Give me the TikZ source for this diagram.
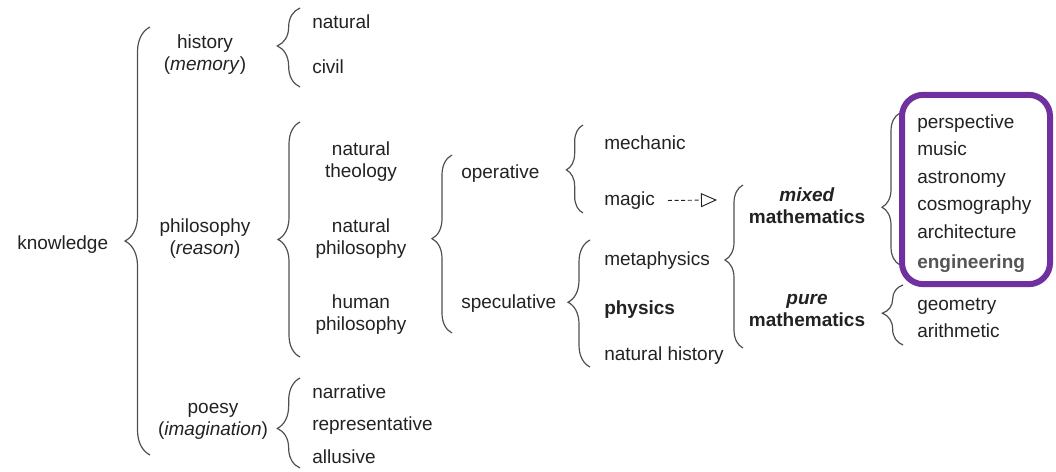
\documentclass[tikz,border=0pt]{standalone}
\usepackage{fontspec}
\setmainfont{Liberation Sans}
\usetikzlibrary{decorations.pathreplacing,arrows.meta,shadows}
\definecolor{txt}{HTML}{222222}
\definecolor{bracegray}{HTML}{505050}
\definecolor{boxpurple}{HTML}{7030A0}
\definecolor{enggray}{HTML}{555555}
\tikzset{
  lbl/.style={anchor=west, inner sep=0pt, yshift=-1.2pt, text=txt, font=\fontsize{14.25}{16.5}\selectfont, text height=10pt, text depth=3pt},
  mlbl/.style={anchor=center, inner sep=0pt, yshift=-0.8pt, text=txt, align=center, font=\fontsize{14.25}{16.5}\selectfont},
  mybrace/.style n args={2}{draw=bracegray, line width=0.9pt, decorate, decoration={brace, amplitude=#1, aspect=#2}},
  purplebox/.style={draw=boxpurple, line width=4.5pt, rounded corners=16pt, fill=white, minimum width=111pt, minimum height=142pt, inner sep=0pt, drop shadow={shadow xshift=1pt, shadow yshift=-1pt, opacity=0.25}},
  dasharrow/.style={draw=txt, line width=0.7pt, dash pattern=on 3pt off 2pt, -{Triangle[open, length=12pt, width=10.5pt]}}
}
\begin{document}
\begin{tikzpicture}[x=0.75pt, y=-0.75pt]
\useasboundingbox (0,0) rectangle (1056,471);

% level 0
\node[lbl] (knowledge) at (17,243) {knowledge};
\coordinate (b1s) at (150,455); \coordinate (b1e) at (150,27);
\draw[mybrace={18.75pt}{0.50}] (b1s) -- (b1e);

% level 1
\node[mlbl] (history) at (205,53.5) {history\\(\textit{memory})};
\node[mlbl] (philosophy) at (205,237.5) {philosophy\\(\textit{reason})};
\node[mlbl] (poesy) at (213,420) {poesy\\(\textit{imagination})};

% history branch
\coordinate (b2s) at (300,87); \coordinate (b2e) at (300,8);
\draw[mybrace={17pt}{0.52}] (b2s) -- (b2e);
\node[lbl] (natural) at (312,22) {natural};
\node[lbl] (civil) at (312,67) {civil};

% philosophy branch
\coordinate (b3s) at (300,357); \coordinate (b3e) at (300,122);
\draw[mybrace={16.5pt}{0.50}] (b3s) -- (b3e);
\node[mlbl] (naturaltheology) at (361,160.5) {natural\\theology};
\node[mlbl] (naturalphilosophy) at (361,237.5) {natural\\philosophy};
\node[mlbl] (humanphilosophy) at (361,314) {human\\philosophy};

% poesy branch
\coordinate (b4s) at (300,468); \coordinate (b4e) at (300,378);
\draw[mybrace={17pt}{0.44}] (b4s) -- (b4e);
\node[lbl] (narrative) at (312,392) {narrative};
\node[lbl] (representative) at (312,424) {representative};
\node[lbl] (allusive) at (312,457) {allusive};

% natural philosophy branch
\coordinate (b5s) at (452,333); \coordinate (b5e) at (452,155);
\draw[mybrace={15pt}{0.53}] (b5s) -- (b5e);
\node[lbl] (operative) at (461,172) {operative};
\node[lbl] (speculative) at (461,302) {speculative};

% operative branch
\coordinate (b6s) at (583,213); \coordinate (b6e) at (583,125);
\draw[mybrace={12.5pt}{0.49}] (b6s) -- (b6e);
\node[lbl] (mechanic) at (604,143) {mechanic};
\node[lbl] (magic) at (604,199) {magic};

% speculative branch
\coordinate (b7s) at (590,367); \coordinate (b7e) at (590,240);
\draw[mybrace={16.5pt}{0.51}] (b7s) -- (b7e);
\node[lbl] (metaphysics) at (604,259) {metaphysics};
\node[lbl] (physics) at (604,308) {\textbf{physics}};
\node[lbl] (naturalhistory) at (604,354) {natural history};

% magic arrow
\coordinate (arrowtip) at (717,200);
\draw[dasharrow, shorten <=9.5pt] (magic.east) -- (arrowtip);

% metaphysics branch
\coordinate (b8s) at (743,348); \coordinate (b8e) at (743,185);
\draw[mybrace={13.5pt}{0.54}] (b8s) -- (b8e);
\node[mlbl] (mixedmath) at (807,205) {\textbf{\textit{mixed}}\\\textbf{mathematics}};
\node[mlbl] (puremath) at (807,309.5) {\textbf{\textit{pure}}\\\textbf{mathematics}};

% mixed mathematics branch
\coordinate (b9s) at (900,265); \coordinate (b9e) at (900,113);
\draw[mybrace={13.5pt}{0.38}] (b9s) -- (b9e);
\node[purplebox] (box) at (976,189.5) {};
\node[lbl] (perspective) at (917,122) {perspective};
\node[lbl] (music) at (917,149) {music};
\node[lbl] (astronomy) at (917,177) {astronomy};
\node[lbl] (cosmography) at (917,204) {cosmography};
\node[lbl] (architecture) at (917,232) {architecture};
\node[lbl, text=enggray] (engineering) at (917,262) {\textbf{engineering}};

% pure mathematics branch
\coordinate (b10s) at (903,345); \coordinate (b10e) at (903,285);
\draw[mybrace={15.5pt}{0.53}] (b10s) -- (b10e);
\node[lbl] (geometry) at (917,304) {geometry};
\node[lbl] (arithmetic) at (917,331) {arithmetic};
\end{tikzpicture}
\end{document}
